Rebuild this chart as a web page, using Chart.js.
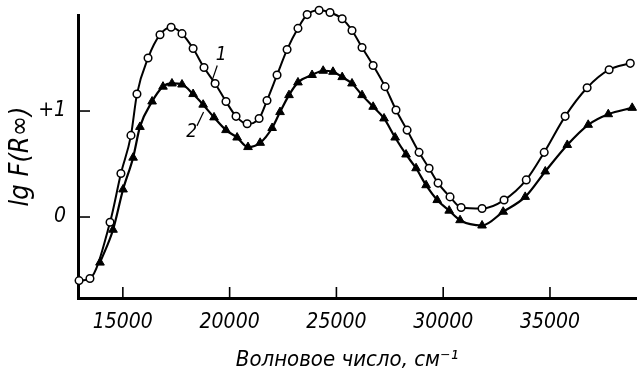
<!DOCTYPE html>
<html>
<head>
<meta charset="utf-8">
<script src="https://cdn.jsdelivr.net/npm/chart.js@4/dist/chart.umd.min.js"></script>
<style>
  html, body { margin: 0; padding: 0; background: #fff; }
  #wrap { width: 637px; height: 372px; }
</style>
</head>
<body>
<div id="wrap"><canvas id="spectrum"></canvas></div>
<script>
// Волновое число (см-1) и lg F(R∞) для образца 1 (кружки)
const wave1 = [12950, 13460, 14400, 14910, 15380, 15660, 16180, 16740, 17260, 17770,
  18290, 18800, 19320, 19830, 20300, 20820, 21380, 21750, 22220, 22690,
  23200, 23630, 24190, 24700, 25270, 25730, 26200, 26720, 27280, 27790,
  28310, 28870, 29340, 29760, 30320, 30840, 31820, 32850, 33890, 34730,
  35710, 36740, 37770, 38760];
const lgF1 = [-0.60, -0.58, -0.05, 0.41, 0.77, 1.16, 1.50, 1.72, 1.79, 1.73,
  1.59, 1.41, 1.26, 1.09, 0.95, 0.88, 0.93, 1.10, 1.34, 1.58,
  1.78, 1.91, 1.95, 1.93, 1.87, 1.76, 1.60, 1.43, 1.23, 1.01,
  0.82, 0.61, 0.46, 0.32, 0.19, 0.09, 0.08, 0.16, 0.35, 0.61,
  0.95, 1.22, 1.39, 1.45];

// образец 2 (треугольники)
const wave2 = [13930, 14540, 15010, 15480, 15800, 16370, 16880, 17300, 17770, 18290,
  18760, 19270, 19830, 20350, 20860, 21430, 21990, 22360, 22780, 23200,
  23860, 24380, 24840, 25270, 25730, 26200, 26720, 27230, 27750, 28260,
  28730, 29200, 29720, 30280, 30790, 31820, 32810, 33840, 34780, 35810,
  36790, 37730, 38850];
const lgF2 = [-0.43, -0.12, 0.26, 0.56, 0.85, 1.09, 1.23, 1.26, 1.25, 1.16,
  1.06, 0.94, 0.82, 0.75, 0.66, 0.70, 0.84, 0.99, 1.15, 1.27,
  1.34, 1.38, 1.37, 1.32, 1.26, 1.15, 1.04, 0.93, 0.75, 0.59,
  0.46, 0.30, 0.16, 0.06, -0.03, -0.08, 0.05, 0.19, 0.43, 0.68,
  0.87, 0.97, 1.03];

const xTicks = [15000, 20000, 25000, 30000, 35000];
const yTicks = [0, 1];

// подписи кривых: текст, точка подписи и выноска (в единицах осей)
const curveLabels = [
  { text: '1', x: 19600, y: 1.53, lx0: 19150, ly0: 1.27, lx1: 19420, ly1: 1.43 },
  { text: '2', x: 18220, y: 0.80, lx0: 18470, ly0: 0.86, lx1: 18780, ly1: 0.99 }
];
const xCaption = 'Волновое число, см⁻¹';

const FONT = "'DejaVu Sans Condensed', 'Liberation Sans Narrow', 'DejaVu Sans', sans-serif";

const toPoints = (xs, ys) => xs.map((x, i) => ({ x: x, y: ys[i] }));

// засечки внутрь поля графика, подписи кривых и подпись оси X
const innerTicks = {
  id: 'innerTicks',
  afterDraw(chart) {
    const ctx = chart.ctx;
    const xs = chart.scales.x, ys = chart.scales.y;
    const area = chart.chartArea;
    ctx.save();
    ctx.strokeStyle = '#000';
    ctx.lineWidth = 1.6;
    xs.ticks.forEach(t => {
      const px = xs.getPixelForValue(t.value);
      ctx.beginPath();
      ctx.moveTo(px, area.bottom);
      ctx.lineTo(px, area.bottom - 11);
      ctx.stroke();
    });
    ys.ticks.forEach(t => {
      const py = ys.getPixelForValue(t.value);
      ctx.beginPath();
      ctx.moveTo(area.left, py);
      ctx.lineTo(area.left + 12, py);
      ctx.stroke();
    });
    ctx.fillStyle = '#000';
    ctx.textAlign = 'center';
    ctx.textBaseline = 'middle';
    ctx.font = 'italic 19px ' + FONT;
    ctx.lineWidth = 1.2;
    curveLabels.forEach(l => {
      ctx.fillText(l.text, xs.getPixelForValue(l.x), ys.getPixelForValue(l.y));
      ctx.beginPath();
      ctx.moveTo(xs.getPixelForValue(l.lx0), ys.getPixelForValue(l.ly0));
      ctx.lineTo(xs.getPixelForValue(l.lx1), ys.getPixelForValue(l.ly1));
      ctx.stroke();
    });
    ctx.font = 'italic 22px ' + FONT;
    ctx.fillText(xCaption, xs.getPixelForValue(25500), area.bottom + 62);
    ctx.restore();
  }
};

new Chart(document.getElementById('spectrum').getContext('2d'), {
  type: 'line',
  data: {
    datasets: [
      {
        label: '1',
        data: toPoints(wave1, lgF1),
        borderColor: '#000',
        borderWidth: 2,
        cubicInterpolationMode: 'monotone',
        pointStyle: 'circle',
        pointRadius: 3.8,
        pointBackgroundColor: '#fff',
        pointBorderColor: '#000',
        pointBorderWidth: 1.5,
        clip: false,
        order: 2
      },
      {
        label: '2',
        data: toPoints(wave2, lgF2),
        borderColor: '#000',
        borderWidth: 2.2,
        cubicInterpolationMode: 'monotone',
        pointStyle: 'triangle',
        pointRadius: 5,
        pointBackgroundColor: '#000',
        pointBorderColor: '#000',
        pointBorderWidth: 1,
        clip: false,
        order: 1
      }
    ]
  },
  options: {
    responsive: true,
    maintainAspectRatio: false,
    animation: false,
    layout: { autoPadding: false, padding: { top: 15, right: 0, left: 0, bottom: 0 } },
    plugins: {
      legend: { display: false },
      tooltip: { enabled: false }
    },
    scales: {
      x: {
        type: 'linear',
        min: 12900,
        max: 39075,
        afterBuildTicks: s => { s.ticks = xTicks.map(v => ({ value: v })); },
        afterFit: s => { s.height = 74; s.paddingLeft = 0; s.paddingRight = 0; },
        grid: { display: false, drawTicks: false },
        border: { display: true, color: '#000', width: 3 },
        ticks: {
          color: '#000',
          padding: 12,
          maxRotation: 0,
          font: { family: FONT, size: 21, style: 'italic' },
          callback: v => String(v)
        }
      },
      y: {
        type: 'linear',
        min: -0.764,
        max: 1.906,
        afterBuildTicks: s => { s.ticks = yTicks.map(v => ({ value: v })); },
        afterFit: s => { s.width = 78; s.paddingTop = 0; s.paddingBottom = 0; },
        grid: { display: false, drawTicks: false },
        border: { display: true, color: '#000', width: 3 },
        ticks: {
          color: '#000',
          padding: 12,
          font: { family: FONT, size: 21, style: 'italic' },
          callback: v => (v > 0 ? '+' + v : String(v))
        },
        title: {
          display: true,
          text: 'lg F(R∞)',
          color: '#000',
          padding: { top: 5, bottom: 0 },
          font: { family: FONT, size: 27, style: 'italic' }
        }
      }
    }
  },
  plugins: [innerTicks]
});
</script>
</body>
</html>
